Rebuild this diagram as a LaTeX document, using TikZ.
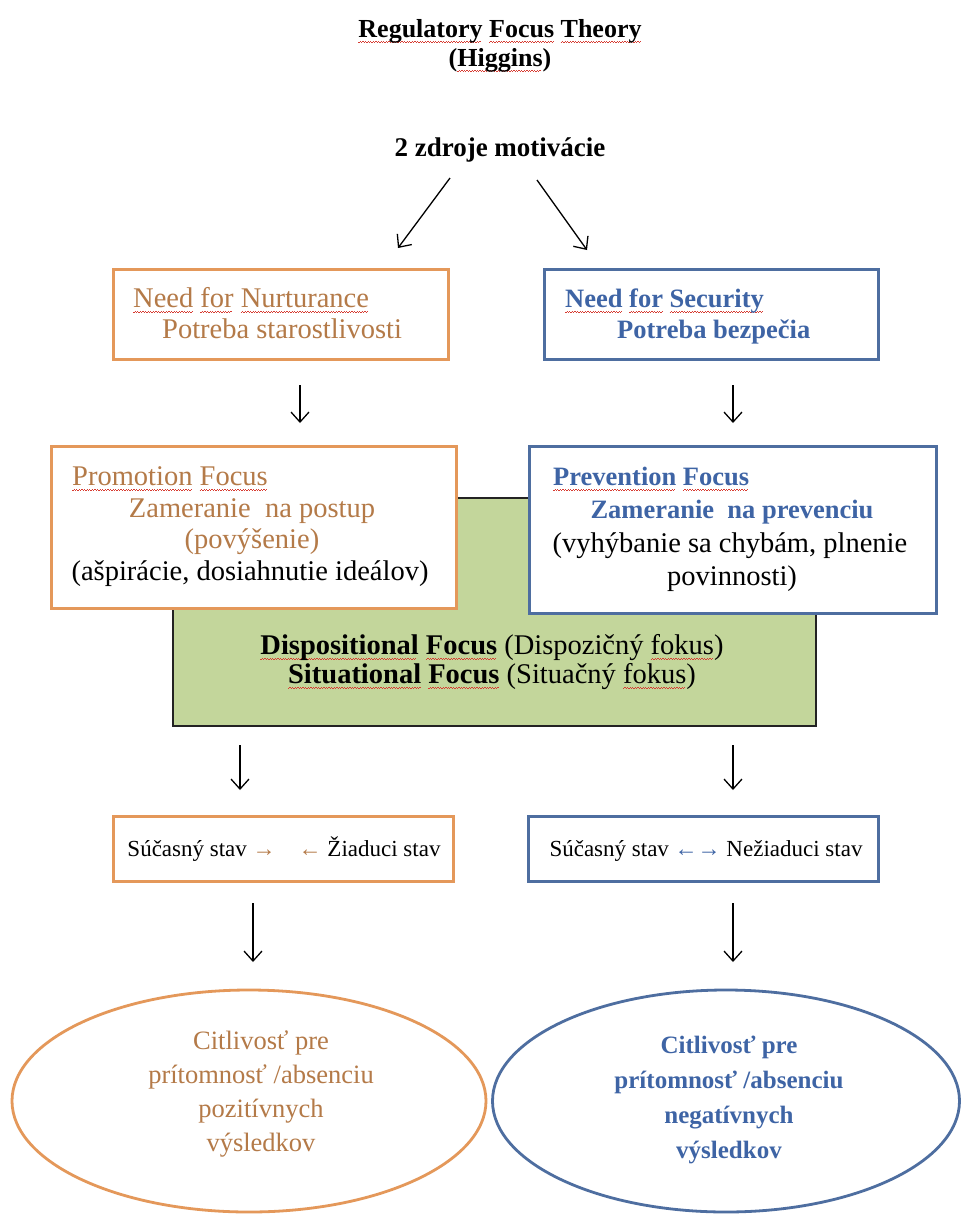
\documentclass[tikz,border=0pt]{standalone}
\usepackage{fontspec}
\setmainfont{Liberation Serif}
\usetikzlibrary{arrows.meta,shapes.geometric}
\definecolor{orgB}{RGB}{228,152,90}
\definecolor{orgT}{RGB}{180,122,72}
\definecolor{bluB}{RGB}{78,110,160}
\definecolor{bluT}{RGB}{62,100,165}
\definecolor{grnF}{RGB}{195,214,155}
\definecolor{grnB}{RGB}{35,35,35}
\definecolor{splC}{RGB}{215,60,50}
\newcommand\spl[1]{{\setbox0\hbox{#1}\rlap{\color{splC}\raisebox{-5pt}{\leaders\hbox{\rule[-0.9pt]{1.3pt}{0.9pt}\rule{1.3pt}{0.9pt}}\hskip\wd0}}\box0}}
\begin{document}
\begin{tikzpicture}[x=1pt,y=-1pt,
  every node/.style={inner sep=0pt, font=\fontsize{28.5}{33}\selectfont},
  arr/.style={line width=1.3pt, -{Straight Barb[length=10pt,width=18pt]}},
  obox/.style={draw=orgB, line width=2.8pt, fill=white, rectangle, anchor=north west},
  bbox/.style={draw=bluB, line width=2.8pt, fill=white, rectangle, anchor=north west},
  otxt/.style={text=orgT},
  btxt/.style={text=bluT, font=\fontsize{26.5}{31}\selectfont\bfseries},
  bold/.style={font=\fontsize{26}{31}\selectfont\bfseries},
  small/.style={font=\fontsize{23}{27}\selectfont},
  ell/.style={ellipse, line width=2.8pt},
  elltxt/.style={align=center, font=\fontsize{26.5}{34}\selectfont}
]
\useasboundingbox (0,0) rectangle (962,1216);
\fill[white] (0,0) rectangle (962,1216);

% title
\node[bold, anchor=base] (t1) at (500,37) {\spl{Regulatory} \spl{Focus} \spl{Theory}};
\node[bold, anchor=base] (t2) at (500,66) {(\spl{Higgins})};
\node[bold, font=\fontsize{27}{31}\selectfont\bfseries, anchor=base] (src) at (500,156) {2 zdroje motivácie};

% diagonal arrows
\coordinate (a1s) at (450,178); \coordinate (a1e) at (398,248);
\coordinate (a2s) at (537,180); \coordinate (a2e) at (587,250);
\draw[arr] (a1s) -- (a1e);
\draw[arr] (a2s) -- (a2e);

% need boxes
\node[obox, minimum width=335pt, minimum height=90pt] (nn) at (112,268) {};
\node[bbox, minimum width=334pt, minimum height=90pt] (ns) at (543,268) {};
\node[otxt, anchor=base west] (nn1) at (133,307) {\spl{Need} \spl{for} \spl{Nurturance}};
\node[otxt, anchor=base west] (nn2) at (162,338) {Potreba starostlivosti};
\node[btxt, anchor=base west] (ns1) at (565,307) {\spl{Need} \spl{for} \spl{Security}};
\node[btxt, anchor=base west] (ns2) at (617,338) {Potreba bezpečia};

% arrows down
\coordinate (b1s) at (300,385); \coordinate (b1e) at (300,423);
\coordinate (b2s) at (733,385); \coordinate (b2e) at (733,423);
\draw[arr] (b1s) -- (b1e);
\draw[arr] (b2s) -- (b2e);

% green box
\node[draw=grnB, fill=grnF, line width=1.5pt, rectangle, anchor=north west,
      minimum width=643pt, minimum height=228pt] (grn) at (172,497) {};

% focus boxes
\node[obox, minimum width=405pt, minimum height=162pt] (pro) at (50,445) {};
\node[bbox, minimum width=407pt, minimum height=167pt] (pre) at (528,445) {};

\node[otxt, anchor=base west] (p1) at (72,485) {\spl{Promotion} \spl{Focus}};
\node[otxt, anchor=base] (p2) at (252,517) {Zameranie\ \ na postup};
\node[otxt, anchor=base] (p3) at (252,548) {(povýšenie)};
\node[anchor=base] (p4) at (250,580) {(ašpirácie, dosiahnutie ideálov)};

\node[btxt, anchor=base west] (q1) at (553,485) {\spl{Prevention} \spl{Focus}};
\node[btxt, anchor=base] (q2) at (732,518) {Zameranie\ \ na prevenciu};
\node[anchor=base] (q3) at (730,552) {(vyhýbanie sa chybám, plnenie};
\node[anchor=base] (q4) at (732,585) {povinnosti)};

\node[anchor=base] (g1) at (492,654) {\textbf{\spl{Dispositional} \spl{Focus}} (Dispozičný \spl{fokus})};
\node[anchor=base] (g2) at (492,683) {\textbf{\spl{Situational} \spl{Focus}} (Situačný \spl{fokus})};

% arrows down
\coordinate (c1s) at (240,745); \coordinate (c1e) at (240,790);
\coordinate (c2s) at (733,745); \coordinate (c2e) at (733,790);
\draw[arr] (c1s) -- (c1e);
\draw[arr] (c2s) -- (c2e);

% state boxes
\node[obox, minimum width=340pt, minimum height=65pt] (ls) at (112,815) {};
\node[bbox, minimum width=350pt, minimum height=65pt] (rs) at (527,815) {};
\node[small, anchor=base] (ls1) at (284,856) {Súčasný stav {\color{orgT}→\quad←} Žiaduci stav};
\node[small, anchor=base] (rs1) at (706,856) {Súčasný stav {\color{bluT}←→} Nežiaduci stav};

% arrows down
\coordinate (d1s) at (253,903); \coordinate (d1e) at (253,962);
\coordinate (d2s) at (733,903); \coordinate (d2e) at (733,962);
\draw[arr] (d1s) -- (d1e);
\draw[arr] (d2s) -- (d2e);

% ellipses
\node[ell, draw=orgB, minimum width=474pt, minimum height=222pt] (le) at (249,1101) {};
\node[ell, draw=bluB, minimum width=467pt, minimum height=222pt] (re) at (726,1101) {};
\node[elltxt, text=orgT] (le1) at (261,1094) {Citlivosť pre\\prítomnosť /absenciu\\pozitívnych\\výsledkov};
\node[elltxt, text=bluT, font=\fontsize{25}{35}\selectfont\bfseries] (re1) at (729,1100) {Citlivosť pre\\prítomnosť /absenciu\\negatívnych\\výsledkov};
\end{tikzpicture}
\end{document}
